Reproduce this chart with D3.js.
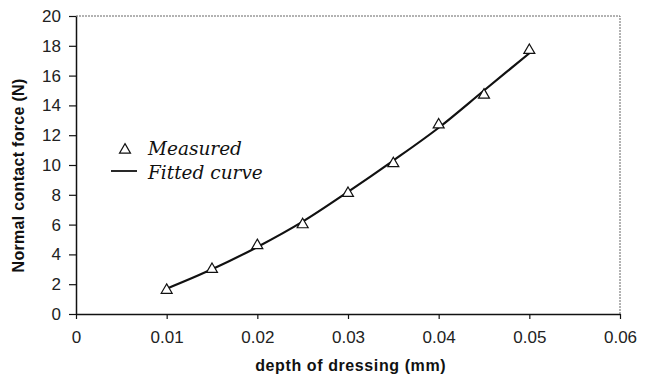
<!DOCTYPE html>
<html>
<head>
<meta charset="utf-8">
<script src="https://cdn.jsdelivr.net/npm/d3@7"></script>
<style>
  body { margin: 0; background: #fff; }
  svg { display: block; }
</style>
</head>
<body>
<div id="chart"></div>
<script>
// data
var depth = [0.01, 0.015, 0.02, 0.025, 0.03, 0.035, 0.04, 0.045, 0.05];
var measured = [1.6, 3.0, 4.6, 6.0, 8.1, 10.1, 12.7, 14.7, 17.7];
var fitted = [1.7, 3.0, 4.5, 6.2, 8.2, 10.3, 12.5, 15.0, 17.5];
var xTicks = [0, 0.01, 0.02, 0.03, 0.04, 0.05, 0.06];
var yTicks = [0, 2, 4, 6, 8, 10, 12, 14, 16, 18, 20];

var margin = { top: 16, right: 33, bottom: 66, left: 76 };
var width = 653 - margin.left - margin.right;
var height = 380 - margin.top - margin.bottom;

var svg = d3.select("#chart")
  .append("svg")
  .attr("width", 653)
  .attr("height", 380)
  .append("g")
  .attr("transform", "translate(" + margin.left + "," + margin.top + ")");

var x = d3.scaleLinear().domain([0, 0.06]).range([0, width]);
var y = d3.scaleLinear().domain([0, 20]).range([height, 0]);

// dotted frame top / right
svg.append("path")
  .attr("d", "M0,0H" + width + "V" + height)
  .attr("fill", "none")
  .attr("stroke", "#666")
  .attr("stroke-width", 1)
  .attr("stroke-dasharray", "2,1");

var xAxis = d3.axisBottom(x).tickValues(xTicks).tickSize(5).tickSizeOuter(0)
  .tickFormat(function (d) { return d === 0 ? "0" : d3.format(".2f")(d); });
var gx = svg.append("g")
  .attr("transform", "translate(0," + height + ")")
  .call(xAxis);
gx.selectAll("text")
  .attr("dy", "0")
  .attr("y", 29)
  .style("font-family", "'Liberation Sans', Arial, sans-serif")
  .style("font-size", "17px")
  .style("fill", "#222");

var yAxis = d3.axisLeft(y).tickValues(yTicks).tickSize(7).tickSizeOuter(0);
var gy = svg.append("g").call(yAxis);
gy.selectAll("text")
  .attr("x", -15)
  .style("font-family", "'Liberation Sans', Arial, sans-serif")
  .style("font-size", "17px")
  .style("fill", "#222");

svg.selectAll(".domain").attr("stroke", "#111").attr("stroke-width", 1.5);
svg.selectAll(".tick line").attr("stroke", "#111").attr("stroke-width", 1.2);

// axis titles
svg.append("text")
  .attr("x", x(0.0303))
  .attr("y", height + 57)
  .attr("text-anchor", "middle")
  .style("font-family", "'Liberation Sans', Arial, sans-serif")
  .style("font-weight", "bold")
  .style("font-size", "16px")
  .style("letter-spacing", "0.6px")
  .style("fill", "#111")
  .text("depth of dressing (mm)");

svg.append("text")
  .attr("transform", "translate(" + (-52) + "," + (y(9.3)) + ") rotate(-90)")
  .attr("text-anchor", "middle")
  .style("font-family", "'Liberation Sans', Arial, sans-serif")
  .style("font-weight", "bold")
  .style("font-size", "16px")
  .style("letter-spacing", "0.3px")
  .style("fill", "#111")
  .text("Normal contact force (N)");

// fitted curve
var line = d3.line()
  .x(function (d, i) { return x(depth[i]); })
  .y(function (d) { return y(d); })
  .curve(d3.curveMonotoneX);

svg.append("path")
  .datum(fitted)
  .attr("d", line)
  .attr("fill", "none")
  .attr("stroke", "#111")
  .attr("stroke-width", 2.2);

// measured triangles
var tri = d3.symbol().type(d3.symbolTriangle).size(52);
svg.append("g")
  .selectAll("path")
  .data(measured)
  .enter()
  .append("path")
  .attr("d", tri)
  .attr("transform", function (d, i) { return "translate(" + x(depth[i]) + "," + y(d) + ")"; })
  .attr("fill", "#fff")
  .attr("stroke", "#111")
  .attr("stroke-width", 1.2);

// legend
var legend = svg.append("g");
legend.append("path")
  .attr("d", tri)
  .attr("transform", "translate(" + 49 + "," + 134 + ")")
  .attr("fill", "#fff")
  .attr("stroke", "#111")
  .attr("stroke-width", 1.2);
legend.append("line")
  .attr("x1", 35).attr("x2", 61)
  .attr("y1", 155).attr("y2", 155)
  .attr("stroke", "#111")
  .attr("stroke-width", 1.8);
legend.append("text")
  .attr("x", 72).attr("y", 139)
  .style("font-family", "'DejaVu Serif', serif")
  .style("font-style", "italic")
  .style("font-size", "18.5px")
  .style("fill", "#111")
  .text("Measured");
legend.append("text")
  .attr("x", 72).attr("y", 163)
  .style("font-family", "'DejaVu Serif', serif")
  .style("font-style", "italic")
  .style("font-size", "18.5px")
  .style("fill", "#111")
  .text("Fitted curve");
</script>
</body>
</html>
